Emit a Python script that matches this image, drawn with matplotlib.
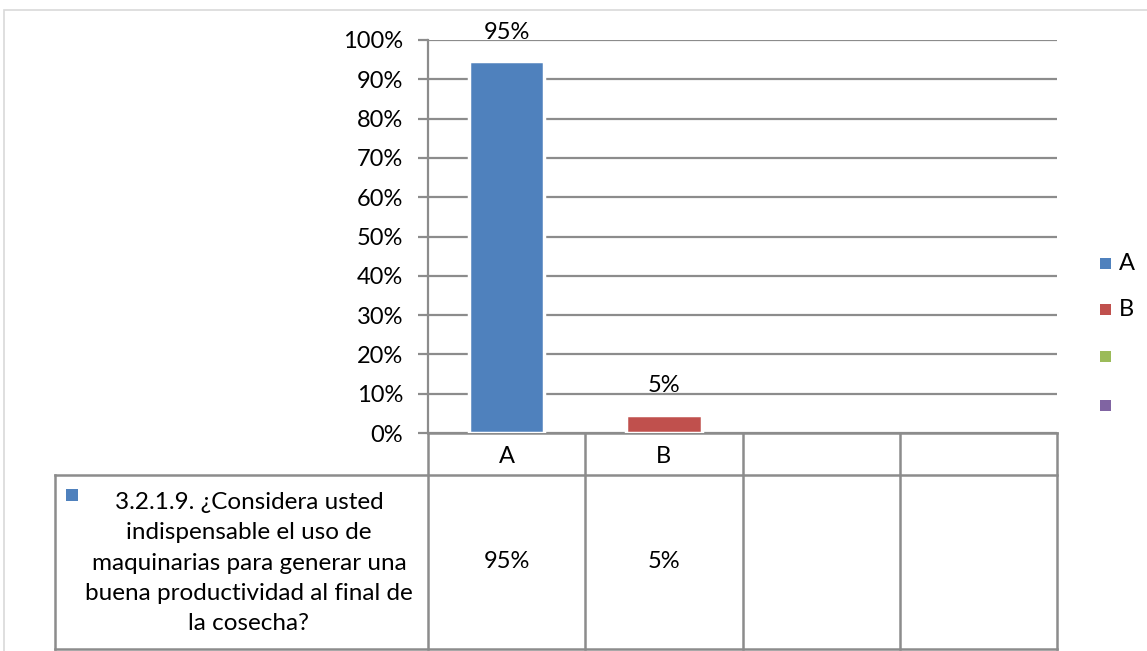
import matplotlib
matplotlib.use("Agg")
import matplotlib.pyplot as plt
from matplotlib.patches import Rectangle
from matplotlib.transforms import blended_transform_factory

# ---- data ----
categories = ["A", "B", "", ""]
values = [0.946, 0.046]
legend_labels = ["A", "B", "", ""]
series_name = ("3.2.1.9. ¿Considera usted\nindispensable el uso de\nmaquinarias para generar una\n"
               "buena productividad al final de\nla cosecha?")
yticks = [0.0, 0.1, 0.2, 0.3, 0.4, 0.5, 0.6, 0.7, 0.8, 0.9, 1.0]
colors = ["#4F81BD", "#C0504D", "#9BBB59", "#8064A2"]

plt.rcParams['font.family'] = ['Lato', 'DejaVu Sans']
FS = 17

W, H = 1147, 651
fig = plt.figure(figsize=(W / 100, H / 100), dpi=100)
fig.patch.set_facecolor("white")

# outer chart border
fig.add_artist(Rectangle((4 / W, -0.1), 1.2, 1 - 10 / H + 0.1, transform=fig.transFigure,
                         fill=False, edgecolor="#d9d9d9", linewidth=1.2))

x0, x1, ytop, ybot = 428, 1057, 40, 433
ax = fig.add_axes([x0 / W, 1 - ybot / H, (x1 - x0) / W, (ybot - ytop) / H])
ax.set_xlim(-0.5, len(categories) - 0.5)
ax.set_ylim(0, 1)
grid_c = "#8c8c8c"
for s in ["top", "right", "bottom"]:
    ax.spines[s].set_visible(False)
ax.spines["left"].set_color(grid_c)
ax.spines["left"].set_linewidth(1.6)
ax.set_yticks(yticks)
ax.set_yticklabels([f"{v:.0%}" for v in yticks], fontsize=FS)
ax.tick_params(axis="y", length=7, width=1.6, color=grid_c, pad=11)
ax.set_xticks([])
for v in yticks:
    ax.axhline(v, color=grid_c, linewidth=1.6, zorder=0)

xs = list(range(len(values)))
bars = ax.bar(xs, values, width=0.48, color=colors[:len(values)], edgecolor="white",
              linewidth=2.5, zorder=2)
for xi, v in zip(xs, values):
    ax.annotate(f"{v:.0%}", (xi, v), xytext=(0, 21), textcoords="offset points",
                ha="center", va="center", fontsize=FS, zorder=3)

# ---- data table ----
tr = blended_transform_factory(ax.transData, ax.transAxes)
axh = ybot - ytop
r1 = -(475 - ybot) / axh
r2 = -(649 - ybot) / axh
slot = (x1 - x0) / len(categories)
left_x = (55 - x0) / slot - 0.5
n = len(categories)
lk = dict(color=grid_c, linewidth=1.8, clip_on=False, transform=tr, zorder=1)
for k in range(n + 1):
    ax.plot([k - 0.5, k - 0.5], [0, r2], **lk)
ax.plot([-0.5, n - 0.5], [0, 0], **lk)
ax.plot([left_x, n - 0.5], [r1, r1], **lk)
ax.plot([left_x, n - 0.5], [r2, r2], **lk)
ax.plot([left_x, left_x], [r1, r2], **lk)

for i, c in enumerate(categories):
    ax.text(i, r1 / 2 - 0.006, c, transform=tr, ha="center", va="center", fontsize=FS)
for i, v in enumerate(values):
    ax.text(i, (r1 + r2) / 2, f"{v:.0%}", transform=tr, ha="center", va="center", fontsize=FS)

head_cx = left_x + (-0.5 - left_x) * 0.52
ax.text(head_cx, (r1 + r2) / 2 - 0.003, series_name, transform=tr, ha="center", va="center",
        fontsize=17.5, linespacing=1.55)
ax.add_patch(Rectangle((left_x + 11 / slot, r1 - 26 / axh), 12 / slot, 12 / axh, transform=tr,
                       facecolor=colors[0], clip_on=False))

# ---- legend ----
leg_y = [264, 310, 357, 406]
for lab, col, yy in zip(legend_labels, colors, leg_y):
    fig.add_artist(Rectangle((1100 / W, 1 - (yy + 5) / H), 11 / W, 11 / H,
                             transform=fig.transFigure, facecolor=col, edgecolor="none"))
    fig.text(1119 / W, 1 - yy / H, lab, ha="left", va="center", fontsize=FS)

fig.savefig("out.png", dpi=100)
